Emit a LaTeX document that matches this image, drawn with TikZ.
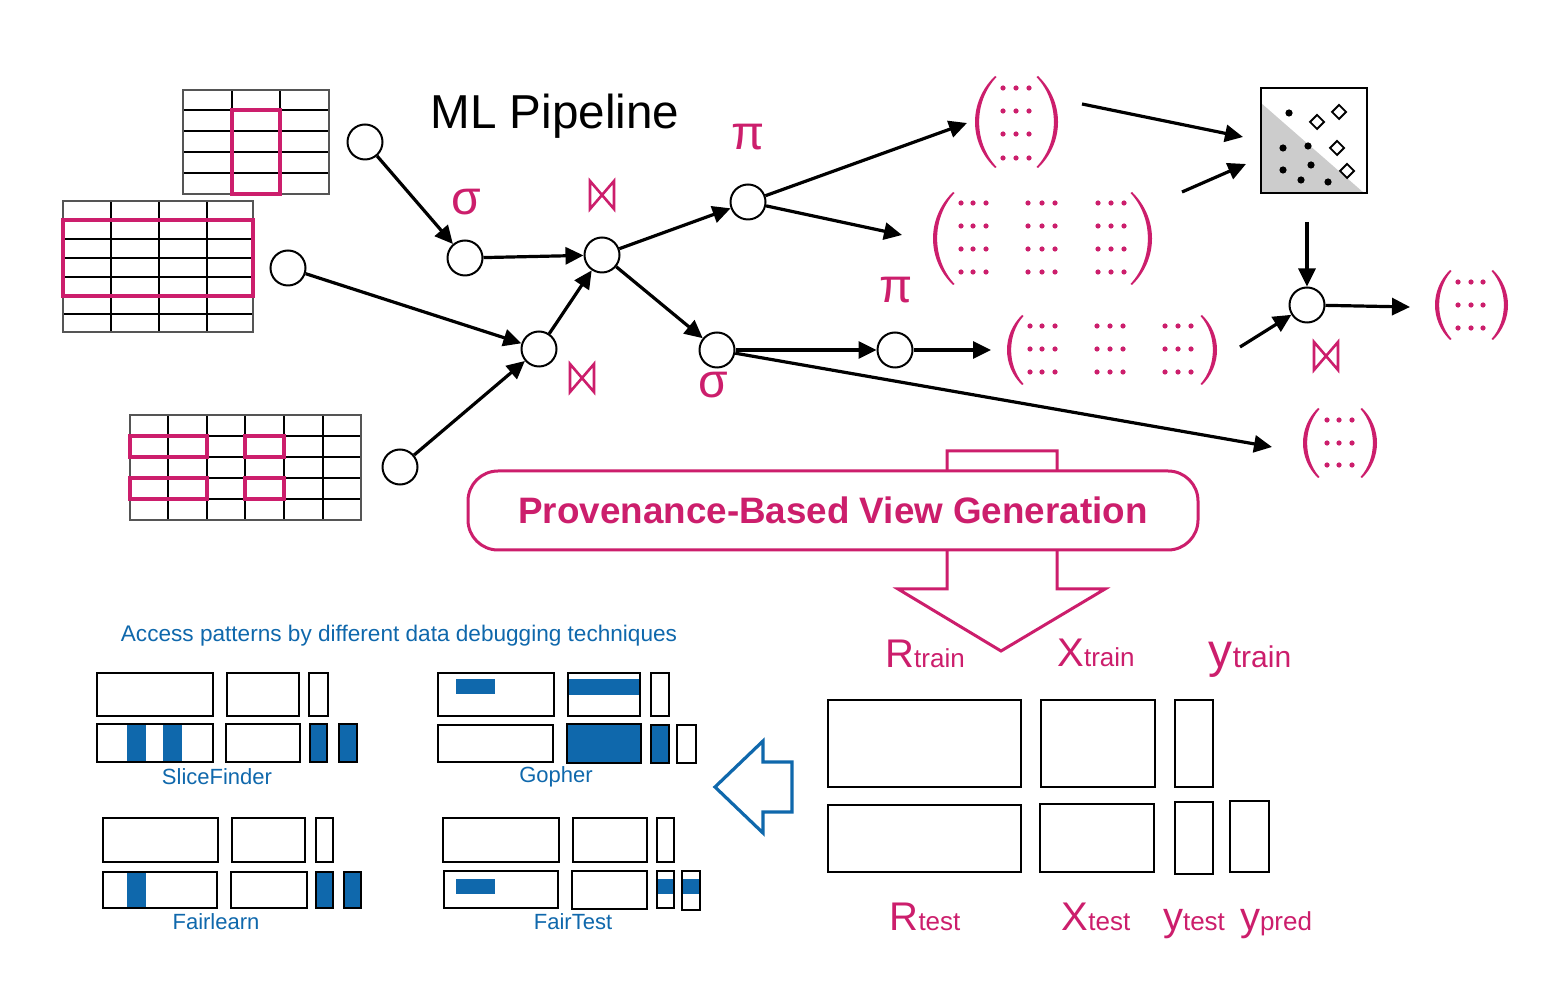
\documentclass[tikz,border=0pt]{standalone}
\usepackage{fontspec}
\setmainfont{Liberation Sans}
\usetikzlibrary{arrows.meta}
\definecolor{pk}{HTML}{CC1E6C}
\definecolor{bl}{HTML}{0F68AC}
\definecolor{tg}{HTML}{555555}
\newcommand\mylpar[4]{\fill[pk] ({#1+#4},{#2}) .. controls ({#1-#4/3},{#2+0.28*(#3-#2)}) and ({#1-#4/3},{#3-0.28*(#3-#2)}) .. ({#1+#4},{#3}) -- ({#1+#4+1.5},{#3-1}) .. controls ({#1-#4/3+5},{#3-0.28*(#3-#2)}) and ({#1-#4/3+5},{#2+0.28*(#3-#2)}) .. ({#1+#4+1.5},{#2+1}) -- cycle;}
\newcommand\myrpar[4]{\fill[pk] ({#1-#4},{#2}) .. controls ({#1+#4/3},{#2+0.28*(#3-#2)}) and ({#1+#4/3},{#3-0.28*(#3-#2)}) .. ({#1-#4},{#3}) -- ({#1-#4-1.5},{#3-1}) .. controls ({#1+#4/3-5},{#3-0.28*(#3-#2)}) and ({#1+#4/3-5},{#2+0.28*(#3-#2)}) .. ({#1-#4-1.5},{#2+1}) -- cycle;}
\newcommand\sbt[1]{{\fontsize{13}{13}\selectfont #1}}
\newcommand\sbtb[1]{{\fontsize{15}{15}\selectfont #1}}
\tikzset{
  op/.style={circle, draw, line width=1pt, minimum size=17.5pt, inner sep=0pt, fill=white},
  flow/.style={line width=1.6pt, -{Triangle[length=9pt,width=8.5pt]}},
  gridl/.style={black, line width=0.9pt},
  tabborder/.style={tg, line width=1.2pt},
  pinkrect/.style={pk, line width=2.3pt},
  opl/.style={pk, font=\fontsize{24}{24}\selectfont},
  bowt/.pic={\draw[pk, line width=1.3pt, line join=miter] (-12,-14)--(12,14)--(12,-14)--(-12,14)--cycle;},
  dmd/.pic={\draw[black, line width=0.9pt, fill=white] (0,-7)--(7,0)--(0,7)--(-7,0)--cycle;},
  mdot/.style={pk},
  lbl/.style={pk, font=\fontsize{20}{20}\selectfont, inner sep=0pt},
  lblb/.style={pk, font=\fontsize{24}{24}\selectfont, inner sep=0pt},
  vrect/.style={draw, line width=1pt},
  apr/.style={draw, line width=1.2pt},
  apf/.style={fill=bl},
  bltext/.style={bl, font=\fontsize{11}{11}\selectfont, inner sep=0pt},
}
\begin{document}
\begin{tikzpicture}[x=0.5pt,y=-0.5pt]
\useasboundingbox (0,0) rectangle (1562,1004);
\fill[white] (0,0) rectangle (1562,1004);

% ---------- tables ----------
\foreach \x in {232,280} \draw[gridl] (\x,90)--(\x,194);
\foreach \y in {110,131,152,173} \draw[gridl] (183,\y)--(329,\y);
\draw[tabborder] (183,90) rectangle (329,194);
\draw[pinkrect] (232,110) rectangle (280,194);

\foreach \x in {111,159,207} \draw[gridl] (\x,201)--(\x,332);
\foreach \y in {220,239,258,277,296,314} \draw[gridl] (63,\y)--(253,\y);
\draw[tabborder] (63,201) rectangle (253,332);
\draw[pinkrect] (63,220) rectangle (253,296);

\foreach \x in {168,207,245,284,323} \draw[gridl] (\x,415)--(\x,520);
\foreach \y in {436,457,478,499} \draw[gridl] (130,\y)--(361,\y);
\draw[tabborder] (130,415) rectangle (361,520);
\draw[pinkrect] (130,436) rectangle (207,457);
\draw[pinkrect] (245,436) rectangle (284,457);
\draw[pinkrect] (130,478) rectangle (207,499);
\draw[pinkrect] (245,478) rectangle (284,499);

% ---------- title ----------
\node[font=\fontsize{23.8}{23.8}\selectfont, inner sep=0pt] (title) at (555,116) {ML Pipeline};

% ---------- operator nodes ----------
\node[op] (c1) at (365,142) {};
\node[op] (c2) at (288,268) {};
\node[op] (c3) at (400,467) {};
\node[op] (s1) at (465,258) {};
\node[op] (j1) at (602,255) {};
\node[op] (j2) at (539,349) {};
\node[op] (p1) at (748,202) {};
\node[op] (s2) at (717,350) {};
\node[op] (p2) at (895,350) {};
\node[op] (j3) at (1307,305) {};

\node[opl] (ls1) at (466,202) {σ};
\node[opl] (lp1) at (748,137) {π};
\node[opl] (lp2) at (896,290) {π};
\node[opl] (ls2) at (713,385) {σ};
\pic at (602,195) {bowt};
\pic at (582,378) {bowt};
\pic at (1326,356) {bowt};

% ---------- matrices ----------
\mylpar{975}{76}{168}{20}
\myrpar{1058}{76}{168}{20}
\foreach \x in {1003,1016,1029} \foreach \y in {88,111,134,158} \fill[mdot] (\x,\y) circle[radius=1.3pt];
\mylpar{933}{192}{285}{20}
\myrpar{1152}{192}{285}{20}
\foreach \x in {961,973,986,1028,1042,1055,1098,1111,1124} \foreach \y in {203,226,249,272} \fill[mdot] (\x,\y) circle[radius=1.3pt];
\mylpar{1007}{315}{385}{15}
\myrpar{1217}{315}{385}{15}
\foreach \x in {1030,1042,1055,1097,1110,1123,1165,1178,1191} \foreach \y in {326,349,372} \fill[mdot] (\x,\y) circle[radius=1.3pt];
\mylpar{1435}{270}{340}{15}
\myrpar{1508}{270}{340}{15}
\foreach \x in {1458,1471,1483} \foreach \y in {282,305,328} \fill[mdot] (\x,\y) circle[radius=1.3pt];
\mylpar{1303}{408}{478}{15}
\myrpar{1377}{408}{478}{15}
\foreach \x in {1327,1339,1352} \foreach \y in {420,443,465} \fill[mdot] (\x,\y) circle[radius=1.3pt];

\coordinate (m1in) at (967,123);
\coordinate (m1out) at (1082,104);
\coordinate (m2in) at (902,235);
\coordinate (m2out) at (1182,192);
\coordinate (m3in) at (991,350);
\coordinate (m3out) at (1240,347);
\coordinate (m4in) at (1410,307);
\coordinate (m5in) at (1272,447);

% ---------- scatter icon ----------
\fill[gray!40] (1261,103) -- (1261,193) -- (1364,193) -- cycle;
\node[draw, line width=1.2pt, minimum width=53pt, minimum height=52.5pt, inner sep=0pt] (sc) at (1314,140.5) {};
\foreach \p in {(1289,113),(1283,148),(1308,146),(1283,170),(1311,165),(1301,180),(1328,182)} \fill \p circle[radius=1.8pt];
\pic at (1317,122) {dmd};
\pic at (1339,112) {dmd};
\pic at (1337,148) {dmd};
\pic at (1347,171) {dmd};
\coordinate (scin1) at (1243,137);
\coordinate (scin2) at (1246,164);
\coordinate (scout) at (1307,222);

% ---------- connectors ----------
\draw[flow] (c1) -- (s1);
\draw[flow] (s1) -- (j1);
\draw[flow] (c2) -- (j2);
\draw[flow] (c3) -- (j2);
\draw[flow] (j2) -- (j1);
\draw[flow] (j1) -- (p1);
\draw[flow] (j1) -- (s2);
\draw[flow] (p1) -- (m1in);
\draw[flow] (p1) -- (m2in);
\draw[flow] (s2) -- (p2);
\draw[flow] (p2) -- (m3in);
\draw[flow] (s2) -- (m5in);
\draw[flow] (m1out) -- (scin1);
\draw[flow] (m2out) -- (scin2);
\draw[flow] (scout) -- (j3);
\draw[flow] (m3out) -- (j3);
\draw[flow] (j3) -- (m4in);

% ---------- provenance ----------
\draw[pk, line width=1.5pt, line join=miter] (947,451) -- (1057,451) -- (1057,589) -- (1105,589) -- (1001,651) -- (898,589) -- (947,589) -- cycle;
\node[draw=pk, line width=1.5pt, rounded corners=15pt, fill=white, minimum width=365pt, minimum height=39.5pt, inner sep=0pt, text=pk, font=\bfseries\fontsize{18.4}{18.4}\selectfont] (prov) at (833,510.5) {Provenance-Based View Generation};

% ---------- views ----------
\node[lbl, anchor=base] (rtr) at (925,668) {R\sbt{train}};
\node[lbl, anchor=base] (xtr) at (1096,666) {X\sbt{train}};
\node[lblb, anchor=base] (ytr) at (1250,668) {y\sbtb{train}};
\draw[vrect] (828,700) rectangle (1021,787);
\draw[vrect] (1041,700) rectangle (1155,787);
\draw[vrect] (1175,700) rectangle (1213,787);
\draw[vrect] (828,805) rectangle (1021,872);
\draw[vrect] (1040,804) rectangle (1154,872);
\draw[vrect] (1175,802) rectangle (1213,874);
\draw[vrect] (1230,801) rectangle (1269,872);
\node[lbl, anchor=base] (rte) at (925,930) {R\sbt{test}};
\node[lbl, anchor=base] (xte) at (1096,930) {X\sbt{test}};
\node[lbl, anchor=base] (yte) at (1194,930) {y\sbt{test}};
\node[lbl, anchor=base] (ypr) at (1276,930) {y\sbt{pred}};

% ---------- blue arrow ----------
\draw[bl, line width=1.6pt, line join=miter] (715,787) -- (763,741) -- (763,762) -- (792,762) -- (792,812) -- (763,812) -- (763,833) -- cycle;

% ---------- access patterns ----------
\node[bltext, font=\fontsize{11.3}{11.3}\selectfont] (ap) at (399,636) {Access patterns by different data debugging techniques};

% SliceFinder
\draw[apr] (97,673) rectangle (213,716);
\draw[apr] (227,673) rectangle (299,716);
\draw[apr] (309,673) rectangle (328,716);
\fill[apf] (127,724) rectangle (146,762);
\fill[apf] (163,724) rectangle (182,762);
\draw[apr] (97,724) rectangle (213,762);
\draw[apr] (226,724) rectangle (300,762);
\draw[apr, apf] (310,724) rectangle (327,762);
\draw[apr, apf] (339,724) rectangle (357,762);
\node[bltext] (lsf) at (217,777) {SliceFinder};

% Gopher
\fill[apf] (456,679) rectangle (495,694);
\draw[apr] (438,673) rectangle (554,716);
\fill[apf] (568,679) rectangle (640,695);
\draw[apr] (568,673) rectangle (640,716);
\draw[apr] (651,673) rectangle (669,716);
\draw[apr] (438,725) rectangle (553,762);
\draw[apr, apf] (567,724) rectangle (641,763);
\draw[apr, apf] (651,725) rectangle (669,763);
\draw[apr] (677,725) rectangle (696,763);
\node[bltext] (lgo) at (556,777) {Gopher};

% Fairlearn
\draw[apr] (103,818) rectangle (218,862);
\draw[apr] (232,818) rectangle (305,862);
\draw[apr] (316,818) rectangle (333,862);
\fill[apf] (127,872) rectangle (146,908);
\draw[apr] (103,872) rectangle (217,908);
\draw[apr] (231,872) rectangle (307,908);
\draw[apr, apf] (316,872) rectangle (333,908);
\draw[apr, apf] (344,872) rectangle (361,908);
\node[bltext] (lfl) at (216,922) {Fairlearn};

% FairTest
\draw[apr] (443,818) rectangle (559,862);
\draw[apr] (573,818) rectangle (647,862);
\draw[apr] (657,818) rectangle (674,862);
\fill[apf] (456,879) rectangle (495,894);
\draw[apr] (444,871) rectangle (558,908);
\draw[apr] (572,871) rectangle (647,909);
\fill[apf] (657,879) rectangle (674,894);
\draw[apr] (657,871) rectangle (674,908);
\fill[apf] (682,879) rectangle (700,894);
\draw[apr] (682,871) rectangle (700,910);
\node[bltext] (lft) at (573,922) {FairTest};
\end{tikzpicture}
\end{document}
